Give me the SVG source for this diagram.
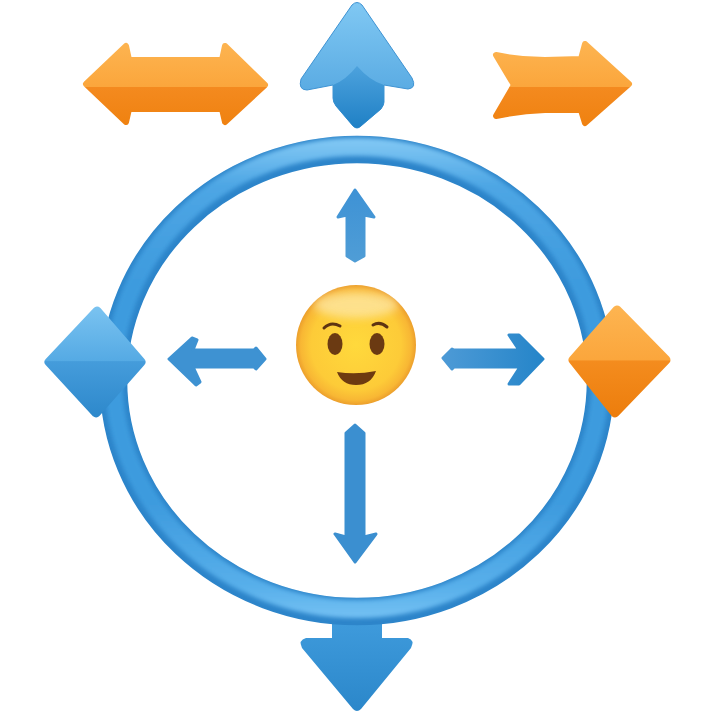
<svg xmlns="http://www.w3.org/2000/svg" width="714" height="714" viewBox="0 0 714 714">
<style>
.rnd{stroke-linejoin:round;stroke-width:6}
.o{fill:url(#og);stroke:url(#og)}
.c{stroke-linejoin:round;stroke-width:3}
.dia{stroke-linejoin:round;stroke-width:9}
.brow{fill:none;stroke:#5e3412;stroke-width:3;stroke-linecap:round}
</style>
<defs>
<linearGradient id="og" gradientUnits="userSpaceOnUse" x1="0" y1="40" x2="0" y2="128"><stop offset="0" stop-color="#fdb552"/><stop offset="0.53" stop-color="#fba63c"/><stop offset="0.535" stop-color="#f48a1f"/><stop offset="1" stop-color="#ef810f"/></linearGradient>
<linearGradient id="od" gradientUnits="userSpaceOnUse" x1="0" y1="304" x2="0" y2="418"><stop offset="0" stop-color="#fdb552"/><stop offset="0.49" stop-color="#fba63c"/><stop offset="0.5" stop-color="#f48c1e"/><stop offset="1" stop-color="#ec7d0c"/></linearGradient>
<linearGradient id="bd" gradientUnits="userSpaceOnUse" x1="0" y1="304" x2="0" y2="418"><stop offset="0" stop-color="#7cc4f1"/><stop offset="0.5" stop-color="#55aae4"/><stop offset="0.505" stop-color="#459cdb"/><stop offset="1" stop-color="#2d88cb"/></linearGradient>
<linearGradient id="up" x1="0" y1="0" x2="0" y2="1"><stop offset="0" stop-color="#80c8f3"/><stop offset="1" stop-color="#4a9fdc"/></linearGradient>
<linearGradient id="ud" x1="0" y1="0" x2="0" y2="1"><stop offset="0" stop-color="#4da2dd"/><stop offset="1" stop-color="#1f80c5"/></linearGradient>
<linearGradient id="dn" x1="0" y1="0" x2="0" y2="1"><stop offset="0" stop-color="#3f9bdc"/><stop offset="1" stop-color="#2b87ca"/></linearGradient>
<linearGradient id="ar" x1="0" y1="0" x2="1" y2="0"><stop offset="0" stop-color="#4d9ad6"/><stop offset="1" stop-color="#2585c9"/></linearGradient>
<linearGradient id="sm" x1="0" y1="0" x2="0" y2="1"><stop offset="0" stop-color="#3e92d5"/><stop offset="1" stop-color="#4f9dd6"/></linearGradient>
<radialGradient id="face" cx="0.5" cy="0.5" r="0.5"><stop offset="0" stop-color="#ffd93c"/><stop offset="0.75" stop-color="#fdcb38"/><stop offset="0.92" stop-color="#f8b734"/><stop offset="1" stop-color="#ec9f2c"/></radialGradient>
<linearGradient id="ring" gradientUnits="userSpaceOnUse" x1="0" y1="136" x2="0" y2="626"><stop offset="0" stop-color="#86cbf6"/><stop offset="0.1" stop-color="#4ea6e4"/><stop offset="0.3" stop-color="#3e9bde"/><stop offset="0.75" stop-color="#3e9bde"/><stop offset="0.92" stop-color="#58afea"/><stop offset="1" stop-color="#7cc6f6"/></linearGradient>
<filter id="soft" x="-5%" y="-5%" width="110%" height="110%"><feGaussianBlur stdDeviation="2.2"/></filter>
<filter id="softer" x="-30%" y="-60%" width="160%" height="220%"><feGaussianBlur stdDeviation="4"/></filter>
<mask id="ringMask" maskUnits="userSpaceOnUse" x="0" y="0" width="714" height="714"><ellipse cx="357" cy="380.5" rx="243.5" ry="231" fill="none" stroke="#fff" stroke-width="27.5"/></mask>
<clipPath id="faceClip"><circle cx="356" cy="345" r="60"/></clipPath>
</defs>

<g id="node-bottom-arrow">
<path d="M332 620V638L306 638Q298 640 302 648L353 709Q357 713 361 709L411 648Q415 640 408 638L382 638V620Z" fill="url(#dn)"/>
</g>

<g id="node-ring">
<ellipse cx="357" cy="380.5" rx="243.5" ry="231" fill="none" stroke="#2d85ca" stroke-width="27.5"/>
<g mask="url(#ringMask)">
<ellipse cx="357" cy="378" rx="243.5" ry="231" fill="none" stroke="url(#ring)" stroke-width="18" filter="url(#soft)"/>
</g>
</g>

<g id="node-double-arrow">
<path class="rnd o" d="M86 84L126 46L129 60H222L225 46L265 85L225 122L222 109H129L126 122Z"/>
</g>

<g id="node-up-arrow">
<path d="M352 5Q357 0 362 5L412 78Q417 88 408 89L384 85V102Q384 105 381 109L361 126Q357 130 353 126L336 106Q333 102 333 98V85L307 90Q298 90 301 79Z" fill="url(#up)" stroke="#3e93d3" stroke-width="1"/>
<path d="M333 85Q346 80 357 66Q370 81 384 85V102Q384 105 381 109L361 126Q357 130 353 126L336 106Q333 102 333 98Z" fill="url(#ud)"/>
</g>

<g id="node-swoosh-arrow">
<path class="rnd o" d="M496 55Q520 60 545 60L581 59L585 44L629 84L585 123L581 110H545Q520 111 496 116L514 85Z"/>
</g>

<g id="node-left-diamond">
<path class="dia" fill="url(#bd)" stroke="url(#bd)" d="M97 311L141 362L96 413L49 362Z"/>
</g>

<g id="node-right-diamond">
<path class="dia" fill="url(#od)" stroke="url(#od)" d="M617 310L666 360L615 413L573 360Z"/>
</g>

<g id="connectors">
<path class="c" fill="#3e92d2" stroke="#3e92d2" d="M169 359L192 338L197 340L193 350H254L256 348L265 359L256 369L254 367H193L200 382L196 385Z"/>
<path class="c" fill="url(#ar)" stroke="url(#ar)" d="M443 358L452 349L454 350H519L509 335H519L543 359L519 384H509L520 367H454L452 369Z"/>
<path class="c" fill="url(#sm)" stroke="url(#sm)" d="M355 190L374 217L364 215V256L355 261L347 256V215L338 217Z"/>
<path class="c" fill="#3b8fd0" stroke="#3b8fd0" d="M355 425L364 433V537L376 534L355 562L335 534L346 537V433Z"/>
</g>

<g id="node-smiley">
<circle cx="356" cy="345" r="60" fill="url(#face)"/>
<g clip-path="url(#faceClip)"><ellipse cx="356" cy="305" rx="42" ry="13" fill="#fde7a8" opacity="0.75" filter="url(#softer)"/></g>
<ellipse cx="335" cy="344" rx="7.5" ry="11" fill="#6b3a12"/>
<ellipse cx="377" cy="344" rx="7.5" ry="11" fill="#6b3a12"/>
<path class="brow" d="M324 328Q331 321 340 326"/>
<path class="brow" d="M373 325Q380 321 387 327"/>
<path d="M337 372Q356 375 376 371Q371 385 356 385Q342 385 337 372Z" fill="#6e3a10"/>
</g>
</svg>
